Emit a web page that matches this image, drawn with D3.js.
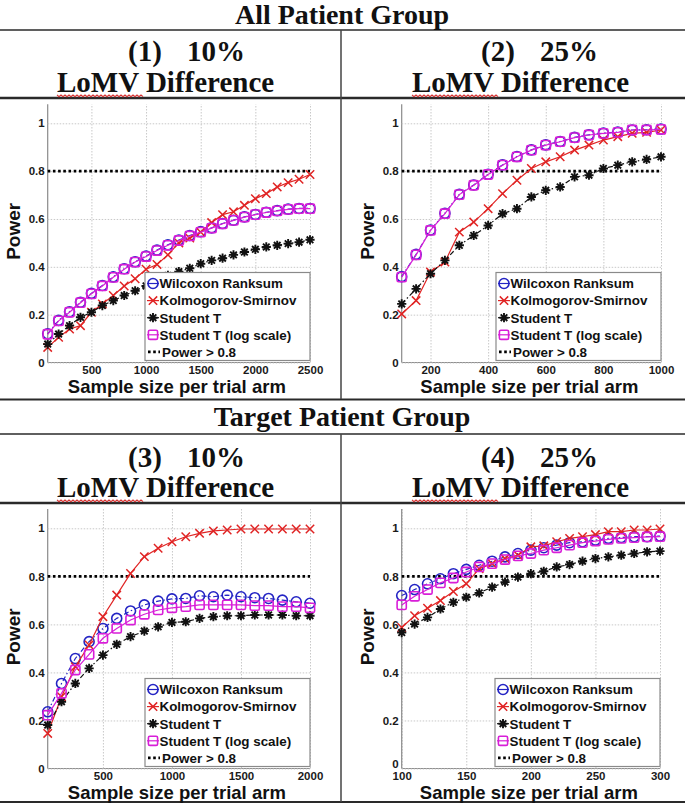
<!DOCTYPE html>
<html><head><meta charset="utf-8">
<script src="https://cdn.jsdelivr.net/npm/d3@7"></script>
<style>
html,body{margin:0;padding:0;background:#fff;}
svg{display:block;}
</style></head>
<body>
<svg id="chart" width="685" height="804"></svg>
<script>
// ---------------- DATA ----------------
const groupTitles = ["All Patient Group", "Target Patient Group"];
const panelNumbers = ["(1)", "(2)", "(3)", "(4)"];
const panelPercents = ["10%", "25%", "10%", "25%"];
const panelSubtitle = "LoMV Difference";
const seriesNames = ["Wilcoxon Ranksum", "Kolmogorov-Smirnov", "Student T", "Student T (log scale)"];
const thresholdLabel = "Power > 0.8";
const threshold = 0.8;
const xLabel = "Sample size per trial arm";
const yLabel = "Power";
const yTicks = [0, 0.2, 0.4, 0.6, 0.8, 1];

// Panel 1: All patients, 10%
const p1_x = [100,200,300,400,500,600,700,800,900,1000,1100,1200,1300,1400,1500,1600,1700,1800,1900,2000,2100,2200,2300,2400,2500];
const p1_wilcoxon = [0.12,0.176,0.212,0.252,0.289,0.322,0.358,0.392,0.421,0.445,0.47,0.492,0.512,0.531,0.547,0.563,0.581,0.595,0.609,0.619,0.628,0.635,0.641,0.644,0.644];
const p1_ks = [0.063,0.105,0.14,0.154,0.21,0.245,0.28,0.32,0.35,0.39,0.41,0.45,0.5,0.52,0.545,0.585,0.618,0.63,0.657,0.685,0.706,0.734,0.752,0.766,0.786];
const p1_studentT = [0.077,0.119,0.154,0.189,0.21,0.238,0.259,0.28,0.3,0.32,0.34,0.364,0.38,0.394,0.413,0.427,0.436,0.45,0.462,0.473,0.483,0.49,0.497,0.503,0.513];
const p1_logT = [0.118,0.174,0.21,0.25,0.287,0.32,0.356,0.39,0.42,0.443,0.468,0.49,0.51,0.529,0.545,0.562,0.58,0.594,0.608,0.618,0.627,0.634,0.64,0.643,0.643];
const p1_xTicks = [500,1000,1500,2000,2500];

// Panel 2: All patients, 25%
const p2_x = [100,150,200,250,300,350,400,450,500,550,600,650,700,750,800,850,900,950,1000];
const p2_wilcoxon = [0.359,0.452,0.554,0.624,0.703,0.742,0.787,0.826,0.861,0.889,0.91,0.924,0.941,0.952,0.959,0.963,0.972,0.973,0.976];
const p2_ks = [0.203,0.259,0.378,0.42,0.545,0.587,0.643,0.706,0.762,0.811,0.839,0.86,0.888,0.909,0.93,0.944,0.958,0.962,0.972];
const p2_studentT = [0.245,0.308,0.371,0.427,0.49,0.531,0.573,0.622,0.643,0.692,0.72,0.734,0.776,0.783,0.811,0.825,0.839,0.849,0.86];
const p2_logT = [0.357,0.45,0.552,0.622,0.702,0.741,0.786,0.825,0.86,0.888,0.909,0.923,0.94,0.951,0.958,0.962,0.972,0.972,0.975];
const p2_xTicks = [200,400,600,800,1000];

// Panel 3: Target patients, 10%
const p3_x = [100,200,300,400,500,600,700,800,900,1000,1100,1200,1300,1400,1500,1600,1700,1800,1900,2000];
const p3_wilcoxon = [0.236,0.354,0.458,0.528,0.583,0.625,0.656,0.681,0.697,0.706,0.708,0.719,0.715,0.722,0.715,0.711,0.708,0.701,0.694,0.688];
const p3_ks = [0.146,0.299,0.424,0.514,0.632,0.722,0.812,0.882,0.917,0.944,0.965,0.979,0.989,0.993,0.997,0.997,0.997,0.997,0.997,0.997];
const p3_studentT = [0.181,0.278,0.354,0.417,0.472,0.517,0.549,0.572,0.59,0.608,0.611,0.625,0.632,0.636,0.636,0.639,0.639,0.639,0.636,0.636];
const p3_logT = [0.222,0.313,0.41,0.475,0.542,0.583,0.618,0.642,0.66,0.669,0.674,0.681,0.681,0.681,0.681,0.678,0.678,0.674,0.674,0.669];
const p3_xTicks = [500,1000,1500,2000];

// Panel 4: Target patients, 25%
const p4_x = [100,110,120,130,140,150,160,170,180,190,200,210,220,230,240,250,260,270,280,290,300];
const p4_wilcoxon = [0.72,0.745,0.769,0.79,0.811,0.829,0.846,0.863,0.881,0.895,0.909,0.919,0.93,0.94,0.944,0.951,0.958,0.962,0.965,0.965,0.968];
const p4_ks = [0.587,0.636,0.667,0.699,0.737,0.769,0.832,0.853,0.874,0.888,0.923,0.927,0.944,0.958,0.965,0.974,0.986,0.986,0.993,0.993,0.997];
const p4_studentT = [0.566,0.601,0.629,0.664,0.692,0.713,0.731,0.755,0.776,0.797,0.811,0.821,0.839,0.849,0.863,0.874,0.881,0.888,0.895,0.902,0.905];
const p4_logT = [0.681,0.717,0.745,0.773,0.793,0.818,0.839,0.853,0.87,0.885,0.895,0.909,0.919,0.93,0.94,0.947,0.954,0.958,0.961,0.964,0.965];
const p4_xTicks = [100,150,200,250,300];

// ---------------- LAYOUT / STYLE ----------------
const svg = d3.select("#chart");
const serif = "'Liberation Serif','Times New Roman',serif";
const sans = "'Liberation Sans',Arial,Helvetica,sans-serif";

const seriesStyle = [
  {color:"#2424c4", dash:"5,2.5,1.5,2.5", marker:"circle"},
  {color:"#e02424", dash:null, marker:"x"},
  {color:"#111111", dash:"5,2.5,1.5,2.5", marker:"asterisk"},
  {color:"#d81ed8", dash:null, marker:"square"}
];

const panels = [
  {x:p1_x, ys:[p1_wilcoxon,p1_ks,p1_studentT,p1_logT], xTicks:p1_xTicks, left:47.7, right:310, bottom:362.5, unit:239.2, zeroShift:0},
  {x:p2_x, ys:[p2_wilcoxon,p2_ks,p2_studentT,p2_logT], xTicks:p2_xTicks, left:401.7, right:661, bottom:362.5, unit:239.2, zeroShift:0},
  {x:p3_x, ys:[p3_wilcoxon,p3_ks,p3_studentT,p3_logT], xTicks:p3_xTicks, left:47.7, right:310, bottom:768.5, unit:240.2, zeroShift:0},
  {x:p4_x, ys:[p4_wilcoxon,p4_ks,p4_studentT,p4_logT], xTicks:p4_xTicks, left:401.7, right:660, bottom:768.5, unit:240.2, zeroShift:-5}
];

// ---------------- TABLE FRAME ----------------
const frame = svg.append("g");
const hline = (y, w) => frame.append("line").attr("x1",0).attr("x2",685).attr("y1",y).attr("y2",y).attr("stroke","#2a2a2a").attr("stroke-width",w);
hline(30,1.5); hline(98,2.5); hline(399.5,2); hline(434,1.5); hline(503,2.5); hline(802,2);
frame.append("line").attr("x1",341).attr("x2",341).attr("y1",30).attr("y2",399).attr("stroke","#444").attr("stroke-width",1.5);
frame.append("line").attr("x1",341).attr("x2",341).attr("y1",434).attr("y2",802).attr("stroke","#444").attr("stroke-width",1.5);

// group titles
[[groupTitles[0],24],[groupTitles[1],426]].forEach(([t,y]) => {
  svg.append("text").attr("x",342).attr("y",y).attr("text-anchor","middle")
    .attr("font-family",serif).attr("font-weight","bold").attr("font-size",28).attr("fill","#111").text(t);
});

// panel headers
const headerPos = [
  {numX:128, pctX:245, subX:57, y1:61, y2:92},
  {numX:481, pctX:598, subX:412, y1:61, y2:92},
  {numX:128, pctX:245, subX:57, y1:467, y2:497},
  {numX:481, pctX:598, subX:412, y1:467, y2:497}
];
headerPos.forEach((h,i) => {
  const g = svg.append("g").attr("font-family",serif).attr("font-weight","bold").attr("font-size",29).attr("fill","#111");
  g.append("text").attr("x",h.numX).attr("y",h.y1).text(panelNumbers[i]);
  g.append("text").attr("x",h.pctX).attr("y",h.y1).attr("text-anchor","end").text(panelPercents[i]);
  g.append("text").attr("x",h.subX).attr("y",h.y2).text(panelSubtitle);
  // red spell-check squiggle under "LoMV"
  let d = "";
  const x0 = h.subX, x1 = h.subX + 87, yy = h.y2 + 3.5;
  for (let x = x0, k = 0; x <= x1; x += 2, k++) d += (k===0?"M":"L") + x + "," + (yy + (k%2?1.2:-0.6));
  svg.append("path").attr("d",d).attr("fill","none").attr("stroke","#d83030").attr("stroke-width",1.1);
});

// ---------------- MARKERS ----------------
function drawMarker(g, type, cx, cy, color) {
  if (type === "circle") {
    g.append("circle").attr("cx",cx).attr("cy",cy).attr("r",5).attr("fill","none").attr("stroke",color).attr("stroke-width",1.6);
  } else if (type === "square") {
    g.append("rect").attr("x",cx-4.6).attr("y",cy-4.6).attr("width",9.2).attr("height",9.2).attr("rx",1.5)
      .attr("fill","none").attr("stroke",color).attr("stroke-width",1.6);
  } else if (type === "x") {
    const s = 4.2;
    g.append("path").attr("d",`M${cx-s},${cy-s}L${cx+s},${cy+s}M${cx-s},${cy+s}L${cx+s},${cy-s}`)
      .attr("stroke",color).attr("stroke-width",1.5).attr("fill","none");
  } else if (type === "asterisk") {
    const s = 4.6, t = s*0.72;
    g.append("path").attr("d",`M${cx-s},${cy}L${cx+s},${cy}M${cx},${cy-s}L${cx},${cy+s}M${cx-t},${cy-t}L${cx+t},${cy+t}M${cx-t},${cy+t}L${cx+t},${cy-t}`)
      .attr("stroke",color).attr("stroke-width",1.9).attr("fill","none");
  }
}

// ---------------- PANELS ----------------
panels.forEach((p) => {
  const xs = d3.scaleLinear().domain([p.x[0], p.x[p.x.length-1]]).range([p.left, p.right]);
  const ys = d3.scaleLinear().domain([0, 1.08]).range([p.bottom, p.bottom - 1.08*p.unit]);
  const top = ys(1.08), h = p.bottom - top, w = p.right - p.left;
  const g = svg.append("g");

  const xa = g.append("g").attr("transform",`translate(0,${p.bottom})`)
    .call(d3.axisBottom(xs).tickValues(p.xTicks).tickSizeInner(-h).tickSizeOuter(0).tickPadding(3).tickFormat(d => String(d)));
  const ya = g.append("g").attr("transform",`translate(${p.left},0)`)
    .call(d3.axisLeft(ys).tickValues(yTicks).tickSizeInner(-w).tickSizeOuter(0).tickPadding(3).tickFormat(d => String(d)));
  [xa, ya].forEach(a => {
    a.selectAll(".tick line").attr("stroke","#c8c8c8").attr("stroke-width",1).attr("stroke-dasharray","1.5,1.5");
    a.select(".domain").attr("stroke","#8a8a8a").attr("stroke-width",1.2);
    a.selectAll(".tick text").attr("font-family",sans).attr("font-weight","bold").attr("font-size",11.5).attr("fill","#1a1a1a");
  });
  ya.selectAll(".tick").filter(d => d === 0).select("text").attr("y", p.zeroShift);
  ya.select(".domain").attr("d",`M0,${top}V${p.bottom}`);
  xa.select(".domain").attr("d",`M${p.left},0H${p.right}`);

  g.append("text").attr("x",(p.left+p.right)/2 - 2).attr("y",p.bottom + 30).attr("text-anchor","middle")
    .attr("font-family",sans).attr("font-weight","bold").attr("font-size",18.5).attr("fill","#111").text(xLabel);
  g.append("text").attr("transform",`translate(${p.left - 27.5},${(top+p.bottom)/2 - 2}) rotate(-90)`).attr("text-anchor","middle")
    .attr("font-family",sans).attr("font-weight","bold").attr("font-size",19).attr("fill","#111").text(yLabel);

  g.append("line").attr("x1",p.left).attr("x2",p.right).attr("y1",ys(threshold)).attr("y2",ys(threshold))
    .attr("stroke","#000").attr("stroke-width",2.6).attr("stroke-dasharray","2.6,2.6");

  p.ys.forEach((vals, si) => {
    const st = seriesStyle[si];
    const line = d3.line().x((d,i) => xs(p.x[i])).y(d => ys(d));
    g.append("path").datum(vals).attr("d",line).attr("fill","none").attr("stroke",st.color)
      .attr("stroke-width",1.2).attr("stroke-dasharray",st.dash);
    const mg = g.append("g");
    vals.forEach((v,i) => drawMarker(mg, st.marker, xs(p.x[i]), ys(v), st.color));
  });

  const lw = 165, lh = 88;
  const lx = p.right - lw, ly = p.bottom - 2 - lh;
  const lg = g.append("g").attr("transform",`translate(${lx},${ly})`);
  lg.append("rect").attr("width",lw).attr("height",lh).attr("fill","#fff").attr("stroke","#8a8a8a").attr("stroke-width",1.2);
  const rowY = i => 11 + i*17.1;
  seriesNames.forEach((name, si) => {
    const st = seriesStyle[si];
    lg.append("line").attr("x1",2).attr("x2",14).attr("y1",rowY(si)).attr("y2",rowY(si)).attr("stroke",st.color).attr("stroke-width",1.2);
    drawMarker(lg, st.marker, 8, rowY(si), st.color);
    lg.append("text").attr("x",14.5).attr("y",rowY(si)+4.8).attr("font-family",sans).attr("font-weight","bold")
      .attr("font-size",13.4).attr("fill","#111").text(name);
  });
  lg.append("line").attr("x1",3).attr("x2",15).attr("y1",rowY(4)).attr("y2",rowY(4)).attr("stroke","#000")
    .attr("stroke-width",2.6).attr("stroke-dasharray","2.6,2.6");
  lg.append("text").attr("x",17).attr("y",rowY(4)+4.8).attr("font-family",sans).attr("font-weight","bold")
    .attr("font-size",13.4).attr("fill","#111").text(thresholdLabel);
});
</script>
</body></html>
